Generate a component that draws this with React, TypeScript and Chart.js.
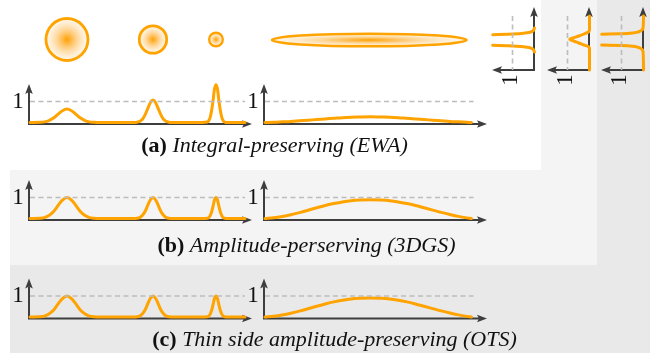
import { useEffect, useRef } from 'react';
import { Chart, registerables } from 'chart.js';

Chart.register(...registerables);

// ---------------- values ----------------
// Left plots: position along the axis (0–100) and amplitude (1 = dashed reference)
const bumpPos = [
  0, 4.6, 6.7, 8.8, 10.9, 13.0, 15.1, 17.2, 19.3, 21.4, 23.5, 25.6, 27.7, 29.8, 32,
  48, 49.7, 50.95, 52.2, 53.45, 54.7, 55.95, 57.2, 58.45, 59.7, 60.95, 62.2, 63.45, 64.7, 66.5,
  80, 82.4, 83.1, 83.8, 84.5, 85.2, 85.8, 86.5, 87.2, 87.8, 88.5, 89.2, 89.9, 90.6, 92, 100,
];
const ewaBumps = [
  0, 0.01, 0.03, 0.09, 0.21, 0.39, 0.56, 0.64, 0.56, 0.39, 0.21, 0.09, 0.03, 0.01, 0,
  0, 0.01, 0.05, 0.14, 0.35, 0.65, 0.94, 1.07, 0.94, 0.65, 0.35, 0.14, 0.05, 0.01, 0,
  0, 0.02, 0.08, 0.24, 0.59, 1.09, 1.59, 1.8, 1.59, 1.09, 0.59, 0.24, 0.08, 0.02, 0, 0,
];
const amplitudeBumps = [
  0, 0.01, 0.04, 0.14, 0.32, 0.61, 0.88, 1, 0.88, 0.61, 0.32, 0.14, 0.04, 0.01, 0,
  0, 0.01, 0.04, 0.14, 0.32, 0.61, 0.88, 1, 0.88, 0.61, 0.32, 0.14, 0.04, 0.01, 0,
  0, 0.01, 0.04, 0.14, 0.32, 0.61, 0.88, 1, 0.88, 0.61, 0.32, 0.14, 0.04, 0.01, 0, 0,
];
const otsBumps = [
  0, 0.01, 0.04, 0.14, 0.32, 0.61, 0.88, 1, 0.88, 0.61, 0.32, 0.14, 0.04, 0.01, 0,
  0, 0.01, 0.04, 0.14, 0.32, 0.61, 0.88, 1, 0.88, 0.61, 0.32, 0.14, 0.04, 0.01, 0,
  0, 0.01, 0.04, 0.14, 0.32, 0.61, 0.88, 1, 0.88, 0.61, 0.32, 0.14, 0.04, 0.01, 0, 0,
];

// Right plots: the long side of the elongated splat
const widePos = [0, 4, 8, 12, 16, 20, 24, 28, 32, 36, 40, 44, 49, 54, 58, 62, 66, 70, 74, 78, 82, 86, 90, 94, 96];
const ewaWide = [0, 0.01, 0.03, 0.05, 0.08, 0.11, 0.14, 0.17, 0.2, 0.23, 0.25, 0.26, 0.27, 0.26, 0.25, 0.23, 0.2, 0.17, 0.14, 0.11, 0.08, 0.05, 0.03, 0.01, 0];
const amplitudeWide = [0, 0.04, 0.1, 0.18, 0.28, 0.39, 0.51, 0.62, 0.71, 0.79, 0.85, 0.88, 0.89, 0.88, 0.85, 0.79, 0.71, 0.62, 0.51, 0.4, 0.29, 0.19, 0.1, 0.03, 0];
const otsWide = [0, 0.04, 0.1, 0.18, 0.28, 0.39, 0.51, 0.62, 0.72, 0.8, 0.86, 0.89, 0.9, 0.89, 0.86, 0.8, 0.72, 0.62, 0.51, 0.4, 0.29, 0.19, 0.1, 0.03, 0];

// Rotated plots: thin side profile (position above the value axis, amplitude)
const ewaThinUpperPos = [42, 39, 37.5, 36.5, 35.8, 35.2];
const ewaThinUpperVal = [0, 0.08, 0.25, 0.6, 1.2, 1.9];
const ewaThinLowerPos = [24.8, 24.2, 23.5, 22.5, 21, 18];
const ewaThinLowerVal = [1.9, 1.2, 0.6, 0.25, 0.08, 0];
const amplitudeThinPos = [54, 40, 38.3, 36, 34, 32.3, 30.7, 29, 27, 25, 23.3, 21, 0];
const amplitudeThinVal = [0, 0, 0.04, 0.25, 0.48, 0.72, 0.9, 0.72, 0.48, 0.25, 0.04, 0, 0];
const otsThinUpperPos = [54, 42, 39.5, 38, 37, 36.3, 35.7];
const otsThinUpperVal = [0, 0.02, 0.1, 0.25, 0.5, 1.0, 1.9];
const otsThinLowerPos = [25, 24.4, 23.7, 22.7, 21.2, 18.5, 0];
const otsThinLowerVal = [1.9, 1.0, 0.5, 0.25, 0.1, 0.02, 0];

const referenceLevel = 1;
const tickLabel = '1';
const captionTags = ['(a)', '(b)', '(c)'];
const captionTexts = ['Integral-preserving (EWA)', 'Amplitude-perserving (3DGS)', 'Thin side amplitude-preserving (OTS)'];
const splatCenters = [17.2, 57.2, 86.5]; // axis units of the first plot
const splatRadii = [21, 13.7, 6.8];
const ellipseCenter = 48.5; // axis units of the second plot
const ellipseRadii = [97.3, 6.3];

// ---------------- layout & style ----------------
const PAGE_W = 654;
const PAGE_H = 358;
const ORANGE = '#ffa300';
const AXIS = '#3e3e3e';
const DASH = '#bcbcbc';
const FONT = '"Liberation Serif", "Times New Roman", serif';
const MAIN_ORIGINS = [
  [29, 124], [264, 124],
  [29, 220], [264, 220],
  [29, 318.5], [264, 318.5],
];
const MAIN_SX = 2.15;
const MAIN_SY = 21;
const MAIN_X0 = 1;
const MAIN_Y0 = 1.5;
const MAIN_AXIS_W = 223;
const MAIN_AXIS_H = 40;
const MINI_AXES_X = [534, 589, 643];
const MINI_BASE_Y = 70;
const MINI_TOP_Y = 7;
const MINI_LEN = 42;
const MINI_SV = 22;
const MINI_SP = 1;
const SPLAT_Y = 39.5;
const CAPTION_POS = [[274.5, 152], [306.5, 251.5], [334.5, 346]];

const scales: any = {};
MAIN_ORIGINS.forEach(([ox, oy], i) => {
  const x0 = ox + MAIN_X0;
  const y0 = oy - MAIN_Y0;
  scales[`mx${i}`] = { type: 'linear', axis: 'x', position: 'bottom', display: false, min: -x0 / MAIN_SX, max: (PAGE_W - x0) / MAIN_SX };
  scales[`my${i}`] = { type: 'linear', axis: 'y', position: 'left', display: false, min: (y0 - PAGE_H) / MAIN_SY, max: y0 / MAIN_SY };
});
MINI_AXES_X.forEach((ax, j) => {
  const x0 = ax + 0.5;
  scales[`nx${j}`] = { type: 'linear', axis: 'x', position: 'bottom', display: false, reverse: true, min: (x0 - PAGE_W) / MINI_SV, max: x0 / MINI_SV };
  scales[`ny${j}`] = { type: 'linear', axis: 'y', position: 'left', display: false, min: (MINI_BASE_Y - PAGE_H) / MINI_SP, max: MINI_BASE_Y / MINI_SP };
});

const lineStyle = {
  borderColor: ORANGE,
  borderWidth: 3,
  pointRadius: 0,
  fill: false,
  cubicInterpolationMode: 'monotone',
  borderCapStyle: 'round',
  borderJoinStyle: 'round',
};
const dashStyle = {
  borderColor: DASH,
  borderWidth: 1.6,
  borderDash: [5, 3.5],
  pointRadius: 0,
  fill: false,
  tension: 0,
};

function mainCurve(pos: number[], vals: number[], i: number) {
  return { ...lineStyle, xAxisID: `mx${i}`, yAxisID: `my${i}`, data: pos.map((x, k) => ({ x, y: vals[k] })) };
}
function miniCurve(pos: number[], vals: number[], j: number) {
  return { ...lineStyle, indexAxis: 'y', xAxisID: `nx${j}`, yAxisID: `ny${j}`, data: pos.map((p, k) => ({ x: vals[k], y: p })) };
}

const datasets: any[] = [];
MAIN_ORIGINS.forEach((_, i) => {
  const end = i % 2 === 0 ? 100 : 97;
  datasets.push({ ...dashStyle, xAxisID: `mx${i}`, yAxisID: `my${i}`, data: [{ x: 0, y: referenceLevel }, { x: end, y: referenceLevel }] });
});
MINI_AXES_X.forEach((_, j) => {
  datasets.push({ ...dashStyle, indexAxis: 'y', xAxisID: `nx${j}`, yAxisID: `ny${j}`, data: [{ x: referenceLevel, y: 54 }, { x: referenceLevel, y: 0 }] });
});
datasets.push(mainCurve(bumpPos, ewaBumps, 0));
datasets.push(mainCurve(widePos, ewaWide, 1));
datasets.push(mainCurve(bumpPos, amplitudeBumps, 2));
datasets.push(mainCurve(widePos, amplitudeWide, 3));
datasets.push(mainCurve(bumpPos, otsBumps, 4));
datasets.push(mainCurve(widePos, otsWide, 5));
datasets.push(miniCurve(ewaThinUpperPos, ewaThinUpperVal, 0));
datasets.push(miniCurve(ewaThinLowerPos, ewaThinLowerVal, 0));
datasets.push(miniCurve(amplitudeThinPos, amplitudeThinVal, 1));
datasets.push(miniCurve(otsThinUpperPos, otsThinUpperVal, 2));
datasets.push(miniCurve(otsThinLowerPos, otsThinLowerVal, 2));

function arrowHead(ctx: CanvasRenderingContext2D, tx: number, ty: number, dx: number, dy: number) {
  const len = 10;
  const half = 3.8;
  const bx = tx - dx * len;
  const by = ty - dy * len;
  ctx.beginPath();
  ctx.moveTo(tx, ty);
  ctx.lineTo(bx - dy * half, by + dx * half);
  ctx.lineTo(tx - dx * len * 0.8, ty - dy * len * 0.8);
  ctx.lineTo(bx + dy * half, by - dx * half);
  ctx.closePath();
  ctx.fill();
}

function drawSplat(ctx: CanvasRenderingContext2D, cx: number, cy: number, rx: number, ry: number, lw: number) {
  ctx.save();
  ctx.translate(cx, cy);
  ctx.scale(1, ry / rx);
  const g = ctx.createRadialGradient(0, 0, 0, 0, 0, rx);
  g.addColorStop(0, 'rgba(255,160,0,1)');
  g.addColorStop(0.45, 'rgba(255,175,50,0.55)');
  g.addColorStop(1, 'rgba(255,205,130,0.12)');
  ctx.fillStyle = g;
  ctx.beginPath();
  ctx.arc(0, 0, rx, 0, Math.PI * 2);
  ctx.fill();
  ctx.restore();
  ctx.beginPath();
  ctx.ellipse(cx, cy, rx, ry, 0, 0, Math.PI * 2);
  ctx.lineWidth = lw;
  ctx.strokeStyle = ORANGE;
  ctx.stroke();
}

const figurePlugin = {
  id: 'figure',
  beforeDraw(chart: any) {
    const ctx: CanvasRenderingContext2D = chart.ctx;
    ctx.save();
    ctx.fillStyle = '#ffffff';
    ctx.fillRect(0, 0, PAGE_W, PAGE_H);
    ctx.fillStyle = '#e9e9e9';
    ctx.fillRect(10, 0, 640, 353);
    ctx.fillStyle = '#f4f4f4';
    ctx.fillRect(10, 0, 587, 265);
    ctx.fillStyle = '#ffffff';
    ctx.fillRect(0, 0, 541, 170);
    ctx.restore();
  },
  beforeDatasetsDraw(chart: any) {
    const ctx: CanvasRenderingContext2D = chart.ctx;
    ctx.save();
    // splats of panel (a)
    splatCenters.forEach((u, k) => {
      drawSplat(ctx, chart.scales.mx0.getPixelForValue(u), SPLAT_Y, splatRadii[k], splatRadii[k], k === 2 ? 2.4 : 2.8);
    });
    drawSplat(ctx, chart.scales.mx1.getPixelForValue(ellipseCenter), SPLAT_Y + 0.5, ellipseRadii[0], ellipseRadii[1], 2.6);

    ctx.strokeStyle = AXIS;
    ctx.fillStyle = AXIS;
    ctx.lineWidth = 2;
    ctx.lineCap = 'butt';
    MAIN_ORIGINS.forEach(([ox, oy]) => {
      ctx.beginPath();
      ctx.moveTo(ox, oy + 1);
      ctx.lineTo(ox, oy - MAIN_AXIS_H + 8);
      ctx.moveTo(ox - 1, oy);
      ctx.lineTo(ox + MAIN_AXIS_W - 8, oy);
      ctx.stroke();
      arrowHead(ctx, ox, oy - MAIN_AXIS_H, 0, -1);
      arrowHead(ctx, ox + MAIN_AXIS_W, oy, 1, 0);
    });
    MINI_AXES_X.forEach((ax) => {
      ctx.beginPath();
      ctx.moveTo(ax, MINI_BASE_Y + 1);
      ctx.lineTo(ax, MINI_TOP_Y + 8);
      ctx.moveTo(ax + 1, MINI_BASE_Y);
      ctx.lineTo(ax - MINI_LEN + 8, MINI_BASE_Y);
      ctx.stroke();
      arrowHead(ctx, ax, MINI_TOP_Y, 0, -1);
      arrowHead(ctx, ax - MINI_LEN, MINI_BASE_Y, -1, 0);
    });
    ctx.restore();
  },
  afterDatasetsDraw(chart: any) {
    const ctx: CanvasRenderingContext2D = chart.ctx;
    ctx.save();
    ctx.fillStyle = '#111111';
    const labelSize = 23;
    ctx.font = `${labelSize}px ${FONT}`;
    ctx.textAlign = 'center';
    ctx.textBaseline = 'alphabetic';
    MAIN_ORIGINS.forEach(([ox], i) => {
      const yPix = chart.scales[`my${i}`].getPixelForValue(referenceLevel);
      ctx.fillText(tickLabel, ox - 11, yPix + 6);
    });
    MINI_AXES_X.forEach((_, j) => {
      const xPix = chart.scales[`nx${j}`].getPixelForValue(referenceLevel);
      ctx.save();
      ctx.translate(xPix - 3, 80);
      ctx.rotate(-Math.PI / 2);
      ctx.fillText(tickLabel, 0, 0.338 * labelSize);
      ctx.restore();
    });
    const capSize = 22;
    captionTags.forEach((tag, k) => {
      const [cx, base] = CAPTION_POS[k];
      ctx.font = `bold ${capSize}px ${FONT}`;
      const tagW = ctx.measureText(tag).width;
      ctx.font = `italic ${capSize}px ${FONT}`;
      const spW = ctx.measureText(' ').width;
      const txtW = ctx.measureText(captionTexts[k]).width;
      const x = cx - (tagW + spW + txtW) / 2;
      ctx.textAlign = 'left';
      ctx.font = `bold ${capSize}px ${FONT}`;
      ctx.fillText(tag, x, base);
      ctx.font = `italic ${capSize}px ${FONT}`;
      ctx.fillText(captionTexts[k], x + tagW + spW, base);
    });
    ctx.restore();
  },
};

export default function App() {
  const ref = useRef<HTMLCanvasElement>(null);
  useEffect(() => {
    if (!ref.current) return;
    const chart = new Chart(ref.current, {
      type: 'line',
      data: { datasets },
      options: {
        animation: false,
        responsive: false,
        devicePixelRatio: 1,
        events: [],
        layout: { padding: 0 },
        plugins: { legend: { display: false }, tooltip: { enabled: false }, title: { display: false } },
        scales,
      } as any,
      plugins: [figurePlugin],
    } as any);
    return () => chart.destroy();
  }, []);
  return (
    <div style={{ position: 'fixed', left: 0, top: 0, width: PAGE_W, height: PAGE_H, background: '#fff' }}>
      <canvas ref={ref} width={PAGE_W} height={PAGE_H} style={{ display: 'block', width: PAGE_W, height: PAGE_H }} />
    </div>
  );
}
